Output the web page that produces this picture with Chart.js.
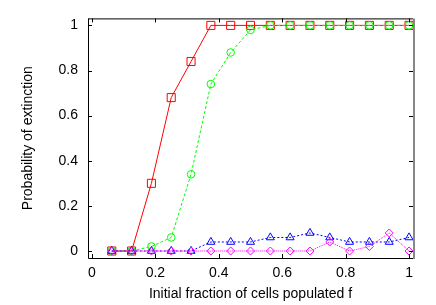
<!DOCTYPE html>
<html>
<head>
<meta charset="utf-8">
<script src="https://cdn.jsdelivr.net/npm/chart.js@4"></script>
<style>
  html, body { margin: 0; padding: 0; background: #fff; }
  canvas { display: block; }
</style>
</head>
<body>
<canvas id="grafico" width="436" height="305"></canvas>
<script>
// fraction of cells populated (x)
const fractions = [0.0625, 0.125, 0.1875, 0.25, 0.3125, 0.375, 0.4375, 0.5,
	0.5625, 0.625, 0.6875, 0.75, 0.8125, 0.875, 0.9375, 1.0]

const redValues = [0, 0, 0.30, 0.68, 0.84, 1, 1, 1, 1, 1, 1, 1, 1, 1, 1, 1]
const greenValues = [0, 0, 0.02, 0.06, 0.34, 0.74, 0.88, 0.98, 1, 1, 1, 1, 1, 1, 1, 1]
const blueValues = [0, 0, 0, 0, 0, 0.04, 0.04, 0.04, 0.06, 0.06, 0.08, 0.06, 0.04, 0.04, 0.04, 0.06]
const magentaValues = [0, 0, 0, 0, 0, 0, 0, 0, 0, 0, 0, 0.04, 0, 0.02, 0.08, 0]

const xTicks = [0, 0.2, 0.4, 0.6, 0.8, 1]
const yTicks = [0, 0.2, 0.4, 0.6, 0.8, 1]

const FONT = { family: '"Liberation Sans", Arial, sans-serif', size: 14 }

const toPoints = values => values.map((v, i) => ({ x: fractions[i], y: v }))

const serie = (values, color, style, radius, dash, order) => ({
	data: toPoints(values),
	borderColor: color,
	backgroundColor: 'transparent',
	borderWidth: 1,
	borderDash: dash,
	pointStyle: style,
	pointRadius: radius,
	pointBorderColor: color,
	pointBackgroundColor: 'transparent',
	pointBorderWidth: 1,
	tension: 0,
	clip: false,
	order: order
})

// gnuplot style frame with inward ticks on all four sides
const framePlugin = {
	id: 'frame',
	afterDraw(chart) {
		const { ctx, chartArea: a, scales } = chart
		ctx.save()
		ctx.strokeStyle = '#000'
		ctx.lineWidth = 1
		ctx.beginPath()
		ctx.moveTo(a.left + 0.5, a.top + 0.5)
		ctx.lineTo(a.right, a.top + 0.5)
		ctx.moveTo(a.left + 0.5, a.top)
		ctx.lineTo(a.left + 0.5, a.bottom + 0.5)
		ctx.lineTo(a.right, a.bottom + 0.5)
		const len = 4
		for (const t of xTicks) {
			const px = Math.round(scales.x.getPixelForValue(t)) + 0.5
			ctx.moveTo(px, a.bottom)
			ctx.lineTo(px, a.bottom - len)
			ctx.moveTo(px, a.top)
			ctx.lineTo(px, a.top + len)
		}
		for (const t of yTicks) {
			const py = Math.round(scales.y.getPixelForValue(t)) + 0.5
			ctx.moveTo(a.left, py)
			ctx.lineTo(a.left + len, py)
			ctx.moveTo(a.right, py)
			ctx.lineTo(a.right - len, py)
		}
		ctx.stroke()
		ctx.strokeStyle = '#888'
		ctx.lineWidth = 2
		ctx.beginPath()
		ctx.moveTo(a.right + 1, a.top)
		ctx.lineTo(a.right + 1, a.bottom + 1)
		ctx.stroke()
		ctx.restore()
	}
}

const config = {
	type: 'line',
	data: {
		datasets: [
			serie(redValues, '#ff0000', 'rect', 5.7, [], 4),
			serie(greenValues, '#00ff00', 'circle', 3.8, [3, 2], 3),
			serie(blueValues, '#0000ff', 'triangle', 4.6, [2, 2], 2),
			serie(magentaValues, '#ff00ff', 'rectRot', 4, [1, 1], 1)
		]
	},
	options: {
		responsive: false,
		animation: false,
		layout: { padding: { top: 17, right: 23, left: 0, bottom: 0 } },
		plugins: { legend: { display: false }, tooltip: { enabled: false } },
		scales: {
			x: {
				type: 'linear',
				min: -0.0125,
				max: 1.0125,
				grid: { display: false, drawTicks: false },
				border: { display: false },
				afterBuildTicks: scale => { scale.ticks = xTicks.map(v => ({ value: v })) },
				afterFit: scale => { scale.height = 47 },
				ticks: {
					padding: 7,
					color: '#000',
					font: FONT,
					maxRotation: 0,
					callback: v => String(v)
				},
				title: {
					display: true,
					text: 'Initial fraction of cells populated f',
					color: '#000',
					font: FONT,
					padding: { top: 0, bottom: 2 }
				}
			},
			y: {
				type: 'linear',
				min: -0.031,
				max: 1.031,
				grid: { display: false, drawTicks: false },
				border: { display: false },
				afterBuildTicks: scale => { scale.ticks = yTicks.map(v => ({ value: v })) },
				afterFit: scale => { scale.width = 88 },
				ticks: {
					padding: 10,
					color: '#000',
					font: FONT,
					callback: v => String(v)
				},
				title: {
					display: true,
					text: 'Probability of extinction',
					color: '#000',
					font: FONT,
					padding: { top: 20, bottom: 0 }
				}
			}
		}
	},
	plugins: [framePlugin]
}

new Chart(document.getElementById('grafico'), config)
</script>
</body>
</html>
